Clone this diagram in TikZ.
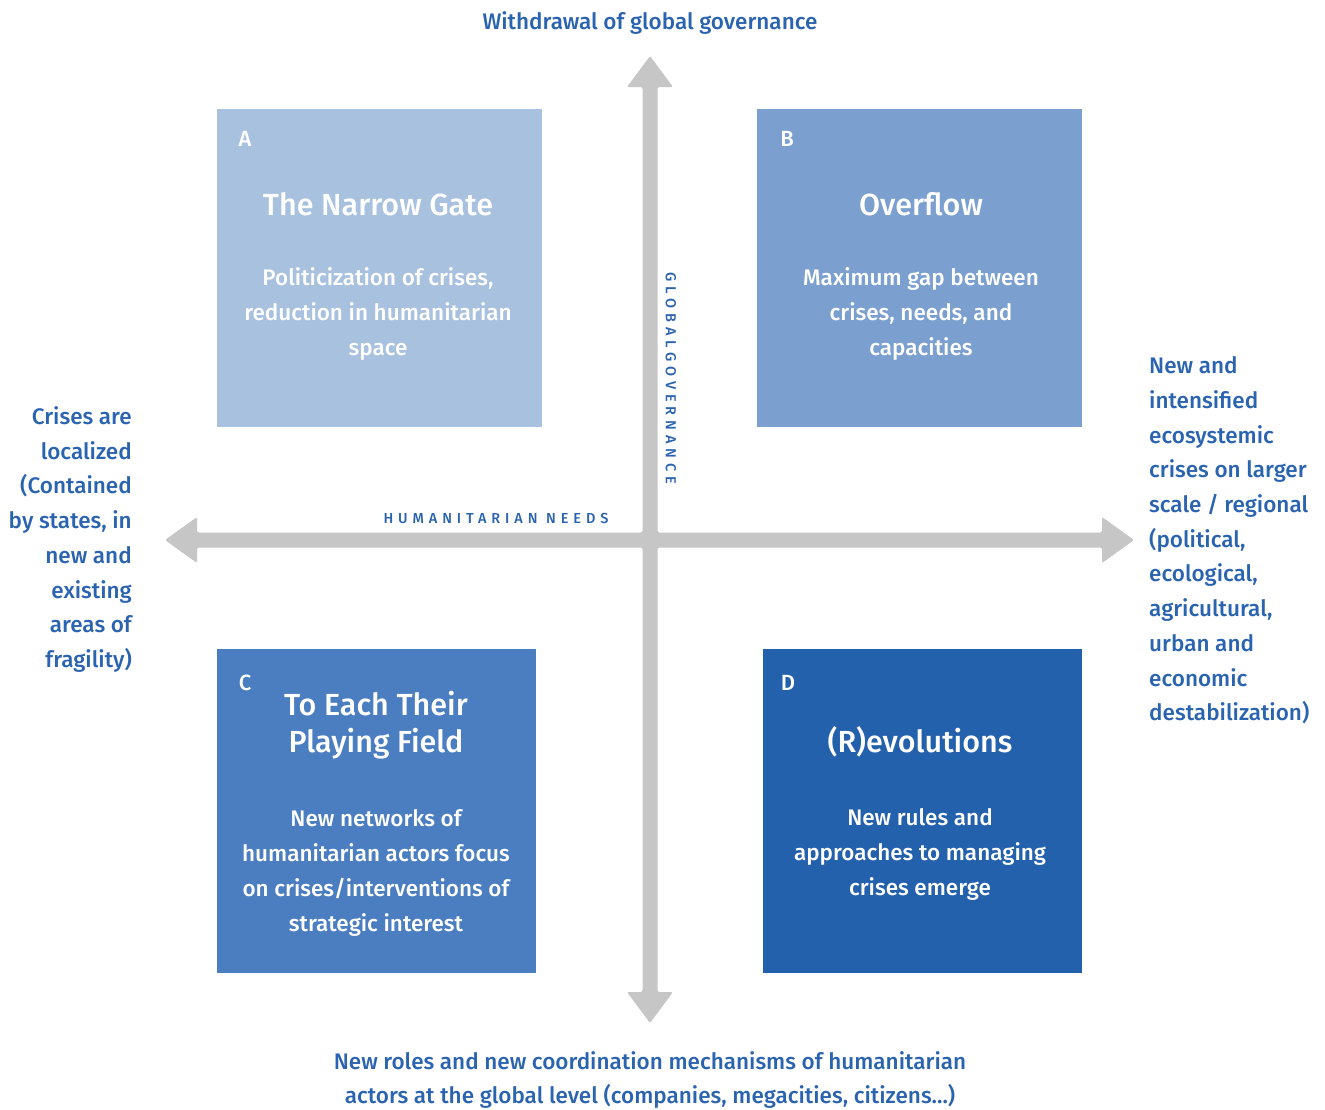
\documentclass[tikz,border=0pt]{standalone}
\usepackage{fontspec}
\IfFontExistsTF{Fira Sans Medium}{\setmainfont{Fira Sans Medium}}{\setmainfont{Fira Sans}[FakeBold=1.2]}
\definecolor{axisgray}{HTML}{C6C6C6}
\definecolor{boxA}{HTML}{A8C1DF}
\definecolor{boxB}{HTML}{7BA0CF}
\definecolor{boxC}{HTML}{4B7EC0}
\definecolor{boxD}{HTML}{2461AD}
\definecolor{txtblue}{HTML}{2A63B0}
\begin{document}
\begin{tikzpicture}[x=1pt,y=-1pt,
  quad/.style={anchor=north west, inner sep=0, draw=none},
  letter/.style={font=\fontsize{22}{22}\selectfont, text=white, inner sep=0},
  ttl/.style={font=\fontsize{30.5}{37}\selectfont, text=white, align=center, inner sep=0},
  desc/.style={font=\fontsize{22.5}{35}\selectfont, text=white, align=center, inner sep=0},
  side/.style={font=\fontsize{22.5}{34.7}\selectfont, text=txtblue, inner sep=0},
  axislabel/.style={font=\fontsize{14.5}{15}\selectfont\addfontfeature{LetterSpace=34}, text=txtblue, inner sep=0}
]
\useasboundingbox (0,0) rectangle (1325,1109);
% axes
\fill[axisgray, rounded corners=2pt]
  (642.5,87) -- (627,87) -- (650,56) -- (673,87) -- (657.5,87)
  -- (657.5,532.5) -- (1102,532.5) -- (1102,517) -- (1134,540) -- (1102,563) -- (1102,547.5)
  -- (657.5,547.5) -- (657.5,992) -- (673,992) -- (650,1023) -- (627,992) -- (642.5,992)
  -- (642.5,547.5) -- (197,547.5) -- (197,563) -- (165,540) -- (197,517) -- (197,532.5)
  -- (642.5,532.5) -- cycle;

% quadrants
\node[quad, fill=boxA, minimum width=325pt, minimum height=318pt] (A) at (217,109) {};
\node[quad, fill=boxB, minimum width=325pt, minimum height=318pt] (B) at (757,109) {};
\node[quad, fill=boxC, minimum width=319pt, minimum height=324pt] (C) at (217,649) {};
\node[quad, fill=boxD, minimum width=319pt, minimum height=324pt] (D) at (763,649) {};

\node[letter] (Al) at (245,138.5) {A};
\node[letter] (Bl) at (787,138.5) {B};
\node[letter] (Cl) at (245,682.5) {C};
\node[letter] (Dl) at (788,682.5) {D};

\node[ttl] (At) at (378,204) {The Narrow Gate};
\node[desc] (Ad) at (378,314) {Politicization of crises,\\reduction in humanitarian\\space};

\node[ttl] (Bt) at (921,204) {Overflow};
\node[desc] (Bd) at (921,314) {Maximum gap between\\crises, needs, and\\capacities};

\node[ttl] (Ct) at (376,725.5) {To Each Their\\Playing Field};
\node[desc] (Cd) at (376,872.5) {New networks of\\humanitarian actors focus\\on crises/interventions of\\strategic interest};

\node[ttl] (Dt) at (920,742) {(R)evolutions};
\node[desc] (Dd) at (920,854) {New rules and\\approaches to managing\\crises emerge};

% axis labels
\node[axislabel] (hn) at (496,518.5) {HUMANITARIAN NEEDS};
\node[axislabel, rotate=-90] (gg) at (671,378.5) {GLOBALGOVERNANCE};

% extremes
\node[side] (top) at (650,23) {Withdrawal of global governance};
\node[side, align=center] (bottom) at (650,1080) {New roles and new coordination mechanisms of humanitarian\\actors at the global level (companies, megacities, citizens...)};
\node[side, align=right, anchor=east] (left) at (132,539.5) {Crises are\\localized\\(Contained\\by states, in\\new and\\existing\\areas of\\fragility)};
\node[side, align=left, anchor=west] (right) at (1149,540.5) {New and\\intensified\\ecosystemic\\crises on larger\\scale / regional\\(political,\\ecological,\\agricultural,\\urban and\\economic\\destabilization)};
\end{tikzpicture}
\end{document}
